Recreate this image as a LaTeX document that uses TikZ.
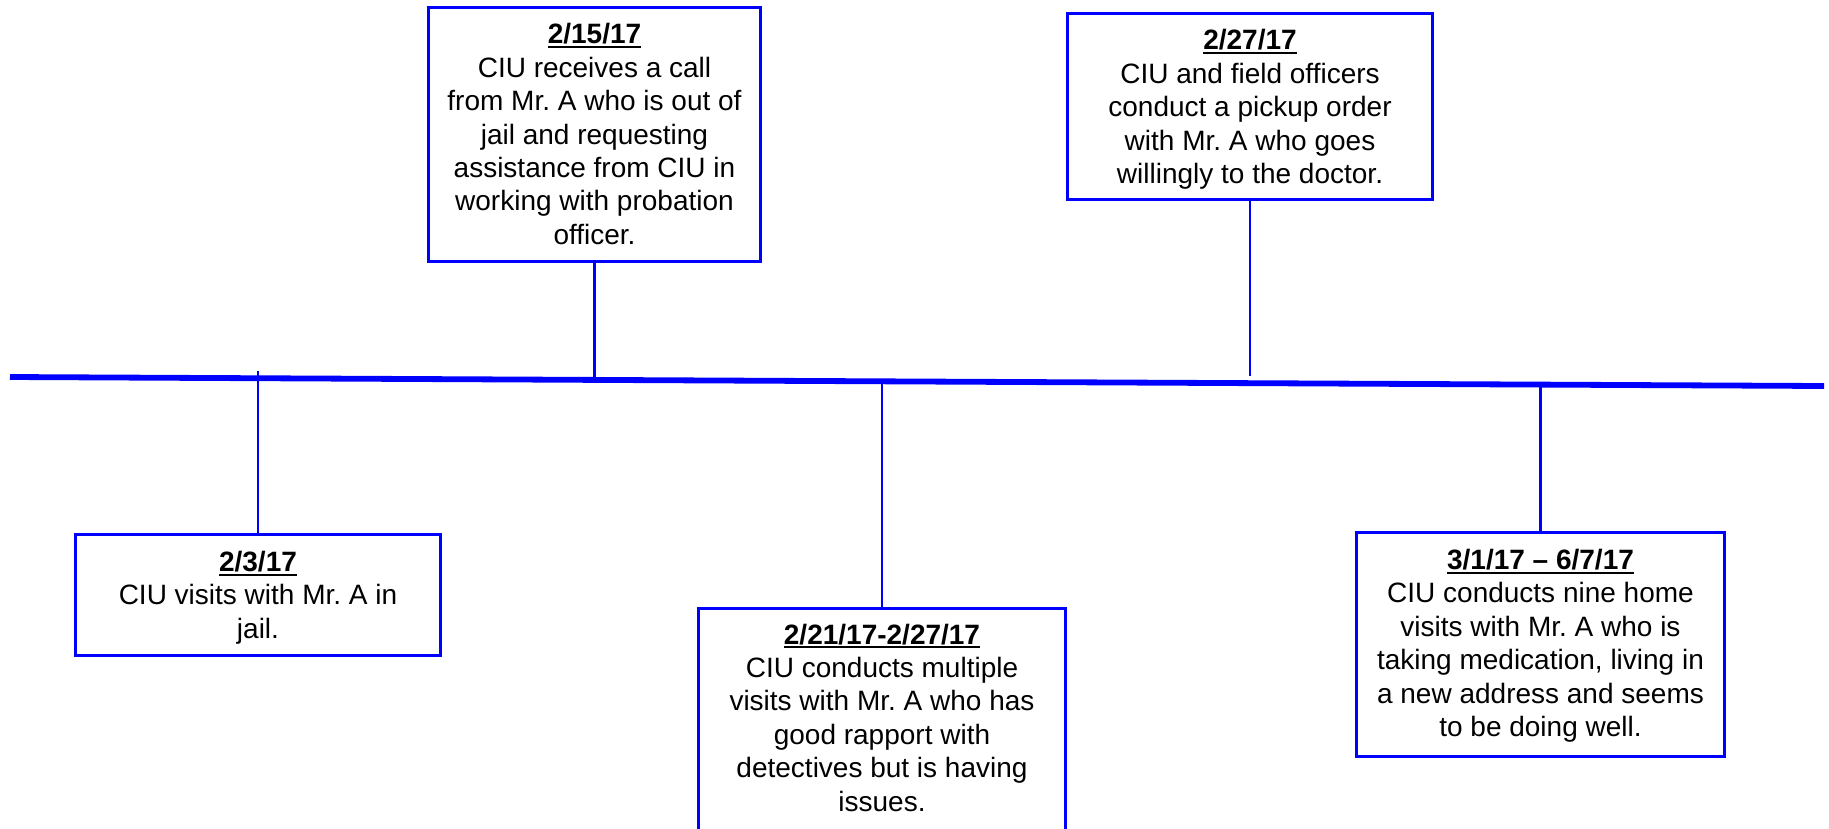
\documentclass[tikz,border=0pt]{standalone}
\usepackage{fontspec}
\setmainfont{Liberation Sans}
\definecolor{tlblue}{RGB}{0,0,255}
\newcommand\dateul[1]{\setbox0\hbox{\bfseries #1}\rlap{\rule[-4.4pt]{\wd0}{2.4pt}}\box0}
\frenchspacing
\begin{document}
\begin{tikzpicture}[x=1pt,y=-1pt,
  box/.style={draw=tlblue, line width=3pt, rectangle, inner sep=0pt},
  conn/.style={draw=tlblue, line width=2.7pt},
  axisline/.style={draw=tlblue, line width=5.8pt},
  txt/.style={font=\fontsize{28}{33.4}\selectfont, align=center, inner sep=0pt, anchor=north, text=black}]
\useasboundingbox (0,0) rectangle (1829,828);

% main time line
\coordinate (L0) at (10,377);
\coordinate (L1) at (1824,386);
\draw[axisline] (L0) -- (L1);

% boxes
\node[box, minimum width=332pt, minimum height=254pt] (A) at (594.5,134.5) {};
\node[box, minimum width=365pt, minimum height=186pt] (B) at (1250,106.5) {};
\node[box, minimum width=365pt, minimum height=121pt] (C) at (258,595) {};
\node[box, minimum width=367pt, minimum height=270pt] (D) at (882,743.5) {};
\node[box, minimum width=368pt, minimum height=224pt] (E) at (1540.5,644.5) {};

% texts
\node[txt] (At) at ([yshift=-17.5pt]A.north) {\dateul{2/15/17}\\CIU receives a call\\from Mr. A who is out of\\jail and requesting\\assistance from CIU in\\working with probation\\officer.};
\node[txt] (Bt) at ([yshift=-17.5pt]B.north) {\dateul{2/27/17}\\CIU and field officers\\conduct a pickup order\\with Mr. A who goes\\willingly to the doctor.};
\node[txt] (Ct) at ([yshift=-18pt]C.north) {\dateul{2/3/17}\\CIU visits with Mr. A in\\jail.};
\node[txt] (Dt) at ([yshift=-16.5pt]D.north) {\dateul{2/21/17-2/27/17}\\CIU conducts multiple\\visits with Mr. A who has\\good rapport with\\detectives but is having\\issues.};
\node[txt] (Et) at ([yshift=-18pt]E.north) {\dateul{3/1/17 -- 6/7/17}\\CIU conducts nine home\\visits with Mr. A who is\\taking medication, living in\\a new address and seems\\to be doing well.};

% connectors
\coordinate (pC) at (258,371);
\coordinate (pA) at (594.5,380);
\coordinate (pD) at (882,381);
\coordinate (pB) at (1250,376);
\coordinate (pE) at (1540.5,382);
\draw[conn] (pC) -- (C.north);
\draw[conn] (A.south) -- (pA);
\draw[conn] (pD) -- (D.north);
\draw[conn] (B.south) -- (pB);
\draw[conn] (pE) -- (E.north);
\end{tikzpicture}
\end{document}
